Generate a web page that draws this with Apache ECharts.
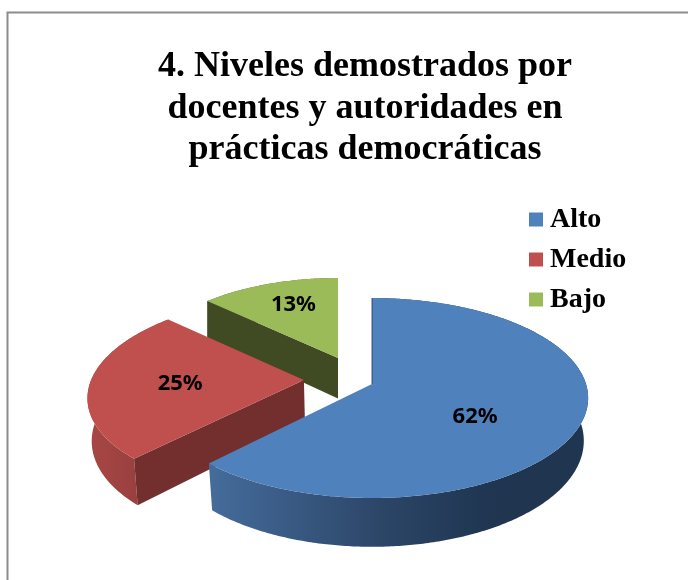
<!DOCTYPE html>
<html>
<head>
<meta charset="utf-8">
<style>html,body{margin:0;padding:0;background:#fff}#chart{width:688px;height:580px}</style>
<script src="https://cdn.jsdelivr.net/npm/echarts@6/dist/echarts.min.js"></script>
</head>
<body>
<div id="chart"></div>
<script>
const categories = ['Alto', 'Medio', 'Bajo'];
const values = [62, 25, 13];
const titleLines = ['4. Niveles demostrados por', 'docentes y autoridades en', 'prácticas democráticas'];

// colores por rebanada
const topColors = ['#4F81BD', '#C0504D', '#9BBB59'];
const cutColor = { 1: '#722F2E', 2: '#404A23' };
const wallStops = [
  [[0, '#456C9C'], [0.45, '#2C4668'], [0.75, '#1F3550'], [1, '#1F3550']],
  [[0, '#A84745'], [1, '#8E3B39']],
  [[0, '#5C6E36'], [1, '#5C6E36']]
];

// proyeccion del pastel 3D (perspectiva simple)
const cy = 384, radiusX = 214, radiusY = 98, depth = 42, persp = 0.14;
const vanishX = [372, 372, 338];
const scaleX = [1, 1, 0.95];
const bottomNarrow = [0.98, 0.985, 1];
const explode = [[0, 0], [-0.32, -0.04], [0, -0.275]];
const labelNudge = [[1, 14], [-17, 2], [-8, -14]];

const total = values.reduce((a, b) => a + b, 0);

function project(i, x, y, bottom) {
  const s = 1 / (1 - persp * y);
  const f = (bottom ? bottomNarrow[i] : 1) * scaleX[i];
  return [vanishX[i] + radiusX * x * s * f, cy + radiusY * y * s + (bottom ? depth * s : 0)];
}

function sliceGeometry(i) {
  const before = values.slice(0, i).reduce((a, b) => a + b, 0);
  const start = before / total * 2 * Math.PI;
  const end = (before + values[i]) / total * 2 * Math.PI;
  const [ox, oy] = explode[i];
  const arc = [];
  const steps = Math.ceil((end - start) * 90);
  for (let k = 0; k <= steps; k++) {
    const a = start + (end - start) * k / steps;
    arc.push([ox + Math.sin(a), oy - Math.cos(a)]);
  }
  return { start, end, ox, oy, arc };
}

function poly(points, fill, z2) {
  return { type: 'polygon', z2, shape: { points }, style: { fill } };
}

function renderSlice(i) {
  const g = sliceGeometry(i);
  const top = g.arc.map(p => project(i, p[0], p[1], false));
  const bot = g.arc.map(p => project(i, p[0], p[1], true));
  const gradient = new echarts.graphic.LinearGradient(0, 0, 1, 0,
    wallStops[i].map(s => ({ offset: s[0], color: s[1] })));
  const apexTop = project(i, g.ox, g.oy, false);
  const apexBot = project(i, g.ox, g.oy, true);
  const children = [
    poly(top.concat(bot.slice().reverse()), gradient, 1),
    poly([apexTop].concat(top), topColors[i], 3)
  ];
  // solo la cara de corte que mira al frente
  if (cutColor[i]) {
    children.push(poly([top[0], apexTop, apexBot, bot[0]], cutColor[i], 2));
  } else {
    children.push({
      type: 'line', z2: 4,
      shape: { x1: top[0][0], y1: top[0][1], x2: apexTop[0], y2: apexTop[1] },
      style: { stroke: '#1F3550', lineWidth: 1, opacity: 0.8 }
    });
  }
  const mid = (g.start + g.end) / 2;
  const lp = project(i, g.ox + 0.5 * Math.sin(mid), g.oy - 0.5 * Math.cos(mid), false);
  children.push({
    type: 'text', z2: 5,
    x: lp[0] + labelNudge[i][0], y: lp[1] + labelNudge[i][1],
    style: {
      text: values[i] + '%', align: 'center', verticalAlign: 'middle',
      fill: '#000', font: 'bold 22px "Noto Sans"'
    }
  });
  return { type: 'group', children };
}

const chart = echarts.init(document.getElementById('chart'));
chart.setOption({
  animation: false,
  title: {
    text: titleLines.join('\n'),
    left: 360, top: 41, textAlign: 'center',
    textStyle: { fontFamily: 'Liberation Serif', fontWeight: 'bold', fontSize: 36, lineHeight: 41.5, color: '#000' }
  },
  legend: {
    orient: 'vertical', left: 524, top: 199,
    data: categories, icon: 'rect', itemWidth: 14, itemHeight: 14, itemGap: 9,
    selectedMode: false,
    textStyle: { fontFamily: 'Liberation Serif', fontWeight: 'bold', fontSize: 28, color: '#000', padding: [0, 0, 0, 2], lineHeight: 31 }
  },
  graphic: [{
    type: 'polyline', silent: true,
    shape: { points: [[7.5, 580], [7.5, 12.5], [688, 12.5]] },
    style: { stroke: '#8C8C8C', lineWidth: 2, fill: null }
  }],
  series: categories.map((name, i) => ({
    type: 'custom',
    name,
    coordinateSystem: 'none',
    z: 3 - i,
    silent: true,
    itemStyle: { color: topColors[i] },
    data: [values[i]],
    renderItem: () => renderSlice(i)
  }))
});
</script>
</body>
</html>
